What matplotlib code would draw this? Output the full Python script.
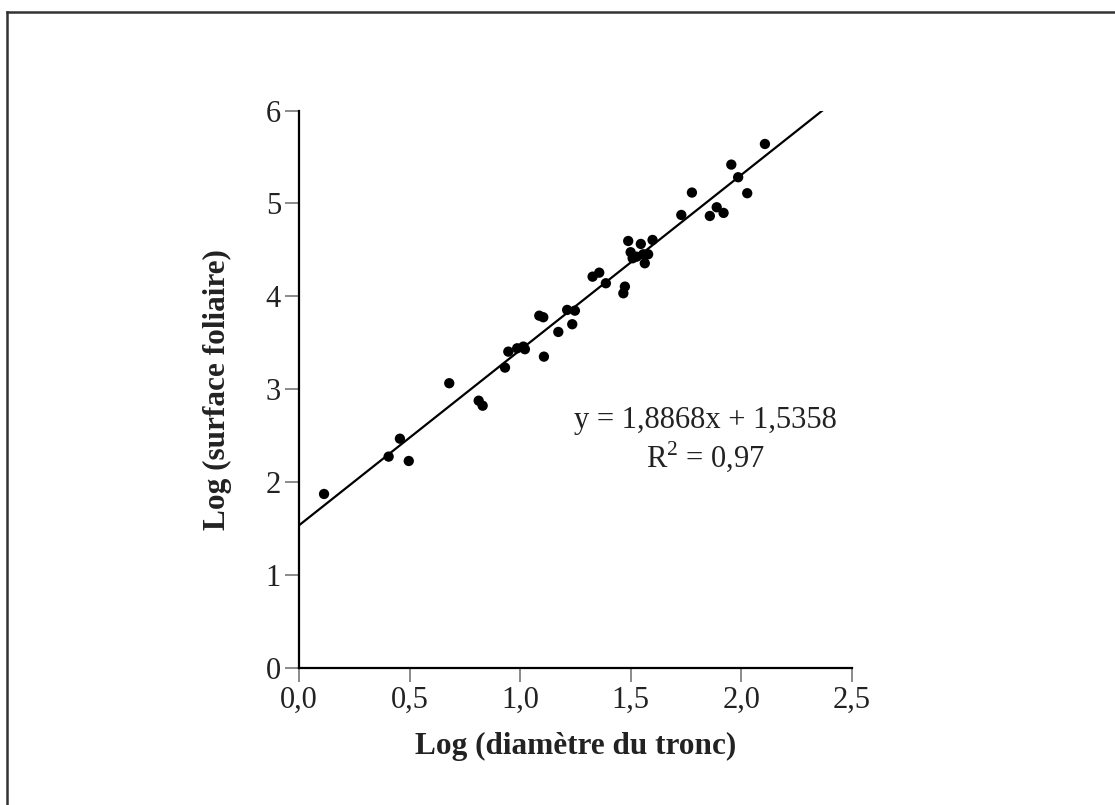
import numpy as np
import matplotlib.pyplot as plt
from matplotlib.lines import Line2D

plt.rcParams['font.family'] = ['Liberation Serif', 'DejaVu Serif']
plt.rcParams['mathtext.fontset'] = 'custom'
plt.rcParams['mathtext.rm'] = 'Liberation Serif'

# points
log_diam = [0.113, 0.405, 0.456, 0.496, 0.679, 0.812, 0.830, 0.931, 0.946, 0.986,
            1.014, 1.021, 1.107, 1.086, 1.104, 1.172, 1.212, 1.247, 1.235, 1.327,
            1.357, 1.387, 1.466, 1.473, 1.488, 1.499, 1.508, 1.526, 1.545, 1.556,
            1.578, 1.563, 1.598, 1.728, 1.776, 1.857, 1.888, 1.919, 1.954, 1.985,
            2.026, 2.106]
log_surf = [1.873, 2.275, 2.468, 2.228, 3.065, 2.877, 2.823, 3.233, 3.405, 3.441,
            3.459, 3.431, 3.351, 3.792, 3.775, 3.617, 3.854, 3.846, 3.700, 4.212,
            4.255, 4.141, 4.033, 4.105, 4.596, 4.475, 4.410, 4.427, 4.564, 4.453,
            4.453, 4.356, 4.607, 4.876, 5.117, 4.865, 4.959, 4.898, 5.418, 5.282,
            5.110, 5.640]

pente = 1.8868
origine = 1.5358
r2_txt = '0,97'

xticks = [0.0, 0.5, 1.0, 1.5, 2.0, 2.5]
xlabels = ['0,0', '0,5', '1,0', '1,5', '2,0', '2,5']
yticks = [0, 1, 2, 3, 4, 5, 6]

fig = plt.figure(figsize=(11.15, 8.05), dpi=100)
ax = fig.add_axes([0.2682, 0.1702, 0.4960, 0.6925])

# droite de regression jusqu'a y = 6
x_fin = (6 - origine) / pente
xl = np.array([0, x_fin])
ax.plot(xl, pente * xl + origine, color='black', lw=1.6, zorder=2)
ax.scatter(log_diam, log_surf, s=55, color='black', edgecolors='none', zorder=3)

ax.set_xlim(0, 2.5)
ax.set_ylim(0, 6)
ax.set_xticks(xticks)
ax.set_xticklabels(xlabels)
ax.set_yticks(yticks)

for s in ['top', 'right']:
    ax.spines[s].set_visible(False)
for s in ['left', 'bottom']:
    ax.spines[s].set_linewidth(1.6)
    ax.spines[s].set_color('black')
ax.tick_params(direction='out', length=10, width=1.4, color='#8a8a8a',
               labelsize=22, labelcolor='#222222', pad=3)

ax.set_xlabel('Log (diamètre du tronc)', fontsize=22.5, fontweight='bold',
              color='#222222', labelpad=12)
ax.set_ylabel('Log (surface foliaire)', fontsize=22.5, fontweight='bold',
              color='#222222', labelpad=24)

ax.text(1.839, 2.66, 'y = 1,8868x + 1,5358', fontsize=22, ha='center',
        va='center', color='#222222')
ax.text(1.839, 2.28, 'R$^{2}$ = ' + r2_txt, fontsize=22, ha='center',
        va='center', color='#222222')

# cadre (seulement haut et gauche visibles)
fig.add_artist(Line2D([7 / 1115, 1], [1 - 12 / 805, 1 - 12 / 805],
                      transform=fig.transFigure, color='#333333', lw=1.8))
fig.add_artist(Line2D([7 / 1115, 7 / 1115], [0, 1 - 12 / 805],
                      transform=fig.transFigure, color='#333333', lw=1.8))

fig.savefig('out.png', dpi=100, facecolor='white')
